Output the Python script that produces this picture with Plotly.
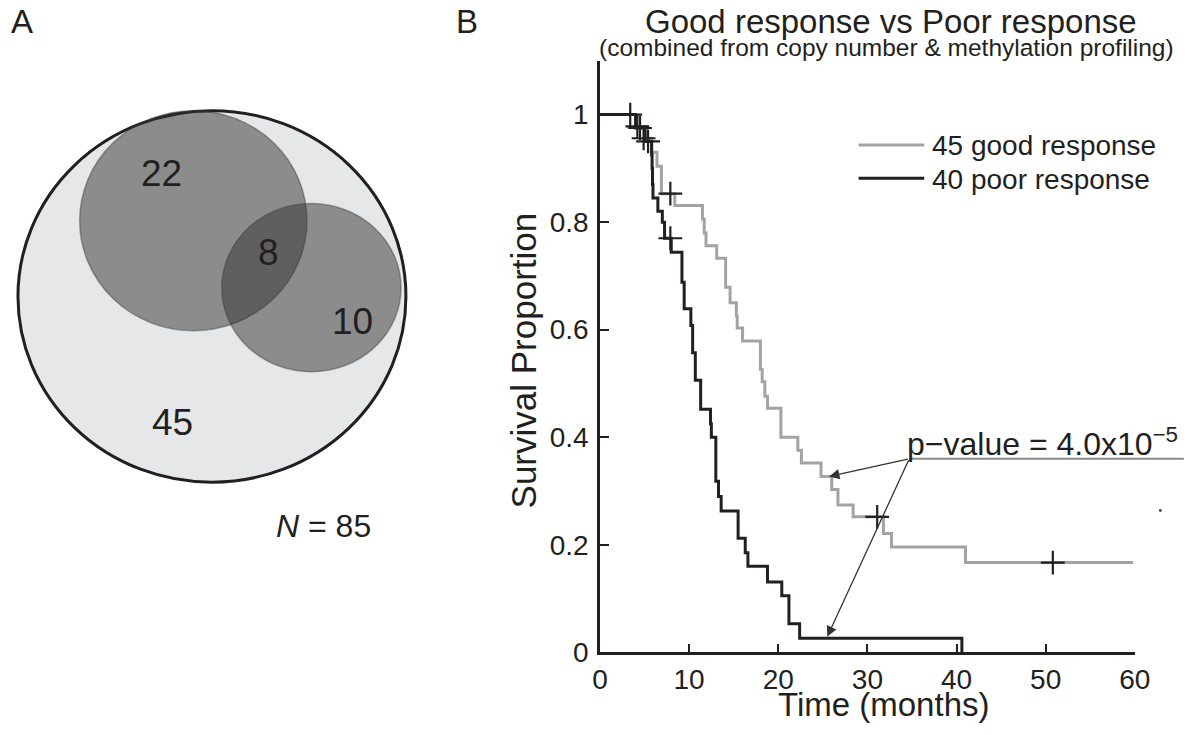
import plotly.graph_objects as go

# ---------------- data ----------------
# Panel B: Kaplan-Meier step curves (time in months, survival proportion)
good_t = [0, 4.0, 5.2, 5.8, 6.4, 6.9, 8.4, 11.5, 11.7, 11.9, 13.1, 14.1, 14.6, 15.3, 15.4, 16.0,
          18.0, 18.2, 18.5, 18.8, 20.3, 22.2, 22.6, 24.8, 26.0, 26.7, 28.4, 31.8, 32.7, 41.0, 59.8]
good_s = [1.0, 0.978, 0.956, 0.93, 0.904, 0.853, 0.831, 0.806, 0.78, 0.756, 0.733, 0.679, 0.65,
          0.626, 0.603, 0.579, 0.526, 0.503, 0.476, 0.454, 0.40, 0.376, 0.352, 0.327, 0.303,
          0.274, 0.252, 0.221, 0.196, 0.167, 0.167]
good_cens_t = [4.2, 4.9, 7.9, 31.1, 50.8]
good_cens_s = [0.978, 0.956, 0.853, 0.252, 0.167]

poor_t = [0, 4.0, 5.05, 5.8, 5.85, 5.9, 5.95, 6.5, 7.0, 7.25, 8.0, 9.2, 9.45, 10.2, 10.4, 10.7,
          11.3, 12.4, 12.5, 13.0, 13.3, 13.6, 15.5, 16.3, 16.6, 18.8, 20.4, 21.2, 22.4, 40.6]
poor_s = [1.0, 0.975, 0.95, 0.925, 0.90, 0.87, 0.845, 0.82, 0.80, 0.77, 0.744, 0.688, 0.639,
          0.608, 0.557, 0.506, 0.452, 0.425, 0.40, 0.318, 0.29, 0.263, 0.212, 0.185, 0.16,
          0.131, 0.105, 0.053, 0.026, 0.0]
poor_cens_t = [3.4, 4.5, 5.4, 7.9]
poor_cens_s = [1.0, 0.975, 0.95, 0.77]

series_names = ["45 good response", "40 poor response"]
x_ticks = [0, 10, 20, 30, 40, 50, 60]
y_ticks = [0, 0.2, 0.4, 0.6, 0.8, 1.0]
y_ticktext = ["0", "0.2", "0.4", "0.6", "0.8", "1"]
p_value_text = "p\u2212value = 4.0x10<sup>\u22125</sup>"
arrow_tail = (34.7, 0.36)
arrow_tips = [(25.7, 0.327), (25.5, 0.029)]

# Panel A: Venn counts
venn_counts = {"only_a": 22, "both": 8, "only_b": 10, "neither": 45}
venn_total = 85

# ---------------- figure ----------------
# the page has an 8px body margin; size the figure so the page is exactly 1200x735
OFF = 8
W, H = 1200 - 2 * OFF, 735 - 2 * OFF
FONT = "Liberation Sans, Arial, Helvetica, sans-serif"
GRAY = "#a3a3a3"
BLACK = "#231f20"


def fx(x):
    return (x - OFF) / W


def fy(y):
    return 1 - (y - OFF) / H


fig = go.Figure()

fig.add_trace(go.Scatter(x=good_t, y=good_s, mode="lines", line=dict(color=GRAY, width=3, shape="hv"),
                         name=series_names[0], showlegend=False, xaxis="x", yaxis="y"))
fig.add_trace(go.Scatter(x=poor_t, y=poor_s, mode="lines", line=dict(color=BLACK, width=3, shape="hv"),
                         name=series_names[1], showlegend=False, xaxis="x", yaxis="y"))
cross = dict(symbol="cross-thin", size=17, line=dict(color=BLACK, width=2.2), color=BLACK)
fig.add_trace(go.Scatter(x=good_cens_t, y=good_cens_s, mode="markers", marker=cross,
                         showlegend=False, hoverinfo="skip", xaxis="x", yaxis="y"))
fig.add_trace(go.Scatter(x=poor_cens_t, y=poor_cens_s, mode="markers", marker=cross,
                         showlegend=False, hoverinfo="skip", xaxis="x", yaxis="y"))

axis_font = dict(family=FONT, size=28, color=BLACK)
fig.update_layout(
    width=W, height=H,
    margin=dict(l=0, r=0, t=0, b=0),
    paper_bgcolor="white", plot_bgcolor="white",
    font=dict(family=FONT, color=BLACK),
    showlegend=False,
    xaxis=dict(domain=[fx(604), fx(1150)], range=[0, 60], tickvals=x_ticks,
               showline=True, linecolor=BLACK, linewidth=2.5, ticks="inside", ticklen=9,
               tickwidth=1.5, tickcolor=BLACK, showgrid=False, zeroline=False,
               tickfont=axis_font, anchor="y"),
    yaxis=dict(domain=[fy(667), fy(62)], range=[0, 1.1], tickvals=y_ticks, ticktext=y_ticktext,
               showline=True, linecolor=BLACK, linewidth=2.5, ticks="inside", ticklen=9,
               tickwidth=1.5, tickcolor=BLACK, showgrid=False, zeroline=False,
               tickfont=axis_font, anchor="x", ticklabelstandoff=3),
    xaxis2=dict(domain=[0, fx(420)], range=[OFF, 420], visible=False, anchor="y2", fixedrange=True),
    yaxis2=dict(domain=[0, 1], range=[735 - OFF, OFF], visible=False, anchor="x2", fixedrange=True),
)

# dummy trace so venn axes exist
fig.add_trace(go.Scatter(x=[200], y=[300], mode="markers", marker=dict(opacity=0), showlegend=False,
                         hoverinfo="skip", xaxis="x2", yaxis="y2"))


def note(x, y, text, size, xref="paper", yref="paper", **kw):
    fig.add_annotation(x=x, y=y, xref=xref, yref=yref, text=text, showarrow=False,
                       xanchor=kw.pop("xanchor", "center"), yanchor=kw.pop("yanchor", "middle"),
                       borderpad=0, font=dict(family=FONT, size=size, color=BLACK), **kw)


# Venn circles (geometry in pixel-unit axes)
fig.add_shape(type="circle", xref="x2", yref="y2", x0=10, x1=406, y0=113, y1=493,
              fillcolor="#e6e7e9", line=dict(color=BLACK, width=3), layer="below")
fig.add_shape(type="circle", xref="x2", yref="y2", x0=73, x1=305, y0=113, y1=338,
              fillcolor="rgba(50,50,50,0.5)", line=dict(color="rgba(60,60,60,0.45)", width=1.5))
fig.add_shape(type="circle", xref="x2", yref="y2", x0=218, x1=401, y0=208, y1=380,
              fillcolor="rgba(50,50,50,0.5)", line=dict(color="rgba(60,60,60,0.45)", width=1.5))

for key, (x, y) in {"only_a": (157, 177), "both": (266, 258), "only_b": (351, 329), "neither": (168, 432)}.items():
    note(x, y, str(venn_counts[key]), 37, xref="x2", yref="y2")
note(322, 538, f"<i>N</i> = {venn_total}", 32, xref="x2", yref="y2")

# panel labels
note(fx(14), fy(22), "A", 33)
note(fx(468), fy(22), "B", 33)

# titles
note(fx(901), fy(22), "Good response vs Poor response", 33)
note(fx(896), fy(48), "(combined from copy number &amp; methylation profiling)", 24.5)

# axis titles
note(fx(893), fy(720), "Time (months)", 33)
note(fx(526), fy(369), "Survival Proportion", 35, textangle=-90)

# legend (drawn by hand to match the sample line length and spacing)
for (name, color, ypix) in [(series_names[0], GRAY, 148), (series_names[1], BLACK, 182)]:
    fig.add_shape(type="line", xref="paper", yref="paper", x0=fx(868), x1=fx(935), y0=fy(ypix), y1=fy(ypix),
                  line=dict(color=color, width=3))
    note(fx(942), fy(ypix + 1), name, 28, xanchor="left")

# p-value annotation
fig.add_shape(type="line", xref="paper", yref="paper", x0=fx(920), x1=fx(1200), y0=fy(469), y1=fy(469),
              line=dict(color="#8a8a8a", width=2))
note(fx(1056), fy(452), p_value_text, 32)
for tx, ty in arrow_tips:
    fig.add_annotation(x=tx, y=ty, xref="x", yref="y", ax=arrow_tail[0], ay=arrow_tail[1],
                       axref="x", ayref="y", text="", showarrow=True, arrowhead=2, arrowsize=1.6,
                       arrowwidth=1.3, arrowcolor="#333333", standoff=0, startstandoff=0)

# stray dot in the original
fig.add_shape(type="circle", xref="paper", yref="paper", x0=fx(1174.5), x1=fx(1177.5), y0=fy(523.5),
              y1=fy(520.5), fillcolor="#444444", line=dict(width=0))

fig.write_html("out.html", config={"displayModeBar": False})
